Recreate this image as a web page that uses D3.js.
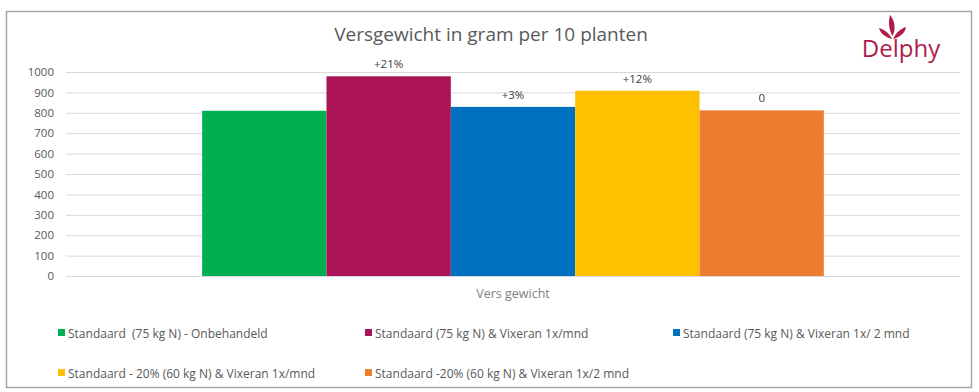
<!DOCTYPE html>
<html><head><meta charset="utf-8">
<script src="https://cdn.jsdelivr.net/npm/d3@7"></script>
<style>body{margin:0;background:#fff;} text{font-family:"Open Sans",sans-serif;white-space:pre;}</style>
</head><body><svg id="c" width="979" height="392"></svg>
<script>
const categories = ["Vers gewicht"];
const seriesNames = [
  "Standaard  (75 kg N) - Onbehandeld",
  "Standaard (75 kg N) & Vixeran 1x/mnd",
  "Standaard (75 kg N) & Vixeran 1x/ 2 mnd",
  "Standaard - 20% (60 kg N) & Vixeran 1x/mnd",
  "Standaard -20% (60 kg N) & Vixeran 1x/2 mnd"
];
const values = [810, 979, 829, 908, 812];
const labels = ["", "+21%", "+3%", "+12%", "0"];
const colors = ["#00b050", "#ab1456", "#0070c0", "#ffc000", "#ed7d31"];
const yTicks = [0,100,200,300,400,500,600,700,800,900,1000];

const svg = d3.select("#c");
svg.append("rect").attr("x",6.5).attr("y",11.5).attr("width",965).attr("height",376)
  .attr("fill","#fff").attr("stroke","#a6a6a6").attr("stroke-width",1.5);

const y = d3.scaleLinear().domain([0,1000]).range([276,72]);

// Excel gap width ~219%
const plotL = 66, plotR = 960, groupW = plotR - plotL, barW = groupW/(5+2.19);
const x1 = d3.scaleBand().domain(d3.range(5))
  .range([plotL + (groupW-5*barW)/2, plotL + (groupW+5*barW)/2]).padding(0);

svg.append("g").selectAll("line").data(yTicks).join("line")
  .attr("x1",plotL).attr("x2",plotR).attr("y1",d=>y(d)+0.5).attr("y2",d=>y(d)+0.5)
  .attr("stroke","#d9d9d9").attr("stroke-width",1);

const yAxis = svg.append("g").attr("transform","translate(60,0)")
  .call(d3.axisLeft(y).tickValues(yTicks).tickFormat(d3.format("d")).tickSize(0).tickPadding(6));
yAxis.select(".domain").remove();
yAxis.selectAll("text").attr("fill","#595959").style("font-size","11.5px").style("font-family","Open Sans");

svg.append("g").selectAll("rect").data(values).join("rect")
  .attr("x",(d,i)=>x1(i)).attr("width",x1.bandwidth())
  .attr("y",d=>y(d)).attr("height",d=>y(0)-y(d))
  .attr("fill",(d,i)=>colors[i]);

svg.append("g").selectAll("text").data(values).join("text")
  .attr("x",(d,i)=>x1(i)+x1.bandwidth()/2).attr("y",d=>y(d)-8)
  .attr("text-anchor","middle").attr("fill","#404040").style("font-size","11.5px")
  .text((d,i)=>labels[i]);

svg.append("text").attr("x",513).attr("y",298).attr("text-anchor","middle")
  .attr("fill","#7f7f7f").style("font-size","12.5px").text(categories[0]);

svg.append("text").attr("x",491).attr("y",41).attr("text-anchor","middle")
  .attr("fill","#595959").style("font-size","19px").text("Versgewicht in gram per 10 planten");

const legPos = [[58,333],[365,333],[673,333],[58,373],[365,373]];
const lg = svg.append("g").selectAll("g").data(seriesNames).join("g")
  .attr("transform",(d,i)=>`translate(${legPos[i][0]},${legPos[i][1]})`);
lg.append("rect").attr("x",0).attr("y",-4).attr("width",7).attr("height",7).attr("fill",(d,i)=>colors[i]);
lg.append("text").attr("x",10).attr("y",4.5).attr("fill","#595959").style("font-size","12px").text(d=>d);

// logo
const logo = svg.append("g").attr("fill","#b01c48");
logo.append("text").attr("x",901).attr("y",57).attr("text-anchor","middle")
  .attr("fill","#b01c48").style("font-size","24px").style("font-family","Open Sans").text("Delphy");
logo.append("path").attr("d","M892,39 C889,33 885,30 879,28 C880,33 885,37 892,39 Z");
logo.append("path").attr("d","M893,39 C896,33 900,29 906,27 C905,33 900,37 893,39 Z");
logo.append("path").attr("d","M892.5,36 C889,30 888,22 890,15 C895,21 896,29 892.5,36 Z");
</script></body></html>
